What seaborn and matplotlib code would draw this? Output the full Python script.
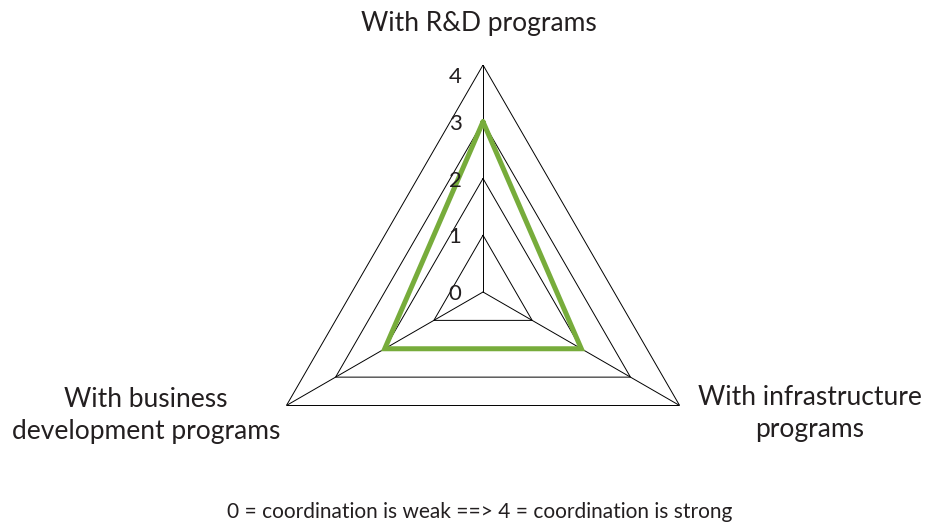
import numpy as np
import matplotlib
matplotlib.use("Agg")
import matplotlib.pyplot as plt
from matplotlib.transforms import offset_copy
import seaborn as sns

# DATA
categories = ["With R&D programs", "With infrastructure\nprograms", "With business\ndevelopment programs"]
scores = [3, 2, 2]
levels = [0, 1, 2, 3, 4]
note = "0 = coordination is weak ==> 4 = coordination is strong"

GREEN = "#77ac3b"
TEXT = "#231f20"

sns.set_style("white")
plt.rcParams["font.family"] = ["Lato", "DejaVu Sans"]

fig = plt.figure(figsize=(9.33, 5.25), dpi=100)
ax = fig.add_axes([0.2744, 0.0114, 0.4866, 0.8648], projection="polar")
ax.set_theta_offset(np.pi / 2)
ax.set_theta_direction(-1)

n = len(categories)
theta = np.linspace(0, 2 * np.pi, n, endpoint=False)
theta_closed = np.append(theta, theta[0] + 2 * np.pi)

# polygon grid
for lv in levels[1:]:
    ax.plot(theta_closed, [lv] * (n + 1), color="black", lw=0.7, zorder=1)
for t in theta:
    ax.plot([t, t], [0, levels[-1]], color="black", lw=0.7, zorder=1)

# data line
closed_scores = scores + scores[:1]
sns.lineplot(x=theta_closed, y=closed_scores, sort=False, estimator=None,
             ax=ax, color=GREEN, linewidth=3.6, zorder=3)
ax.lines[-1].set_solid_joinstyle("miter")

ax.set_ylim(0, levels[-1])
ax.set_xticks([])
ax.set_yticks([])
ax.grid(False)
ax.spines["polar"].set_visible(False)
ax.set_xlabel("")
ax.set_ylabel("")

# level labels to the left of the top spoke
lab_tr = offset_copy(ax.transData, fig=fig, x=-28, y=-2, units="dots")
for lv in levels:
    ax.text(0, lv, str(lv), transform=lab_tr, ha="center",
            va="top" if lv == levels[-1] else "center",
            fontsize=16, color=TEXT)

# category labels
fig.text(0.5134, 0.956, categories[0], ha="center", va="center", fontsize=19, color=TEXT)
fig.text(0.868, 0.212, categories[1], ha="center", va="center", fontsize=19,
         color=TEXT, linespacing=1.35)
fig.text(0.1565, 0.2095, categories[2], ha="center", va="center", fontsize=19,
         color=TEXT, linespacing=1.35)

fig.text(0.514, 0.024, note, ha="center", va="center", fontsize=15, color=TEXT)

fig.savefig("out.png", dpi=100)
